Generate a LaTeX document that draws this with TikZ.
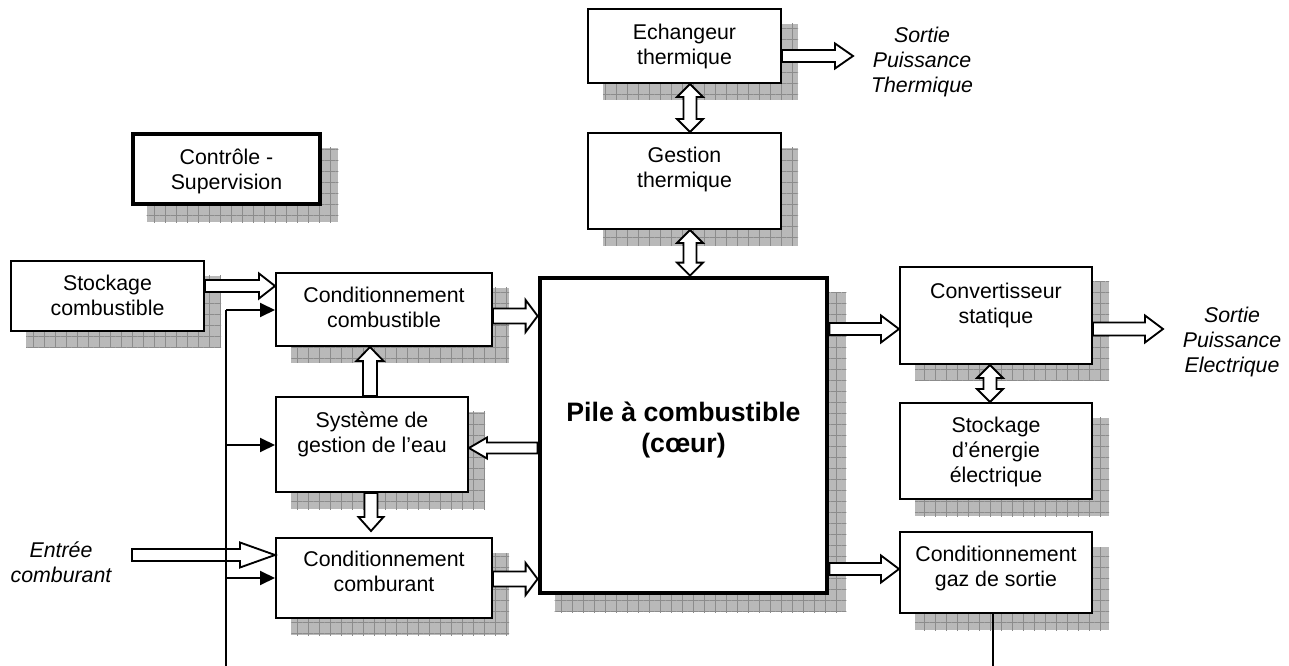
\documentclass[tikz,border=0pt]{standalone}
\usepackage{fontspec}
\setmainfont{Liberation Sans}
\usetikzlibrary{arrows.meta,fit,backgrounds,patterns.meta,calc}
\newcommand\fsn{\fontsize{16}{18.75}\selectfont}
\newcommand\fsb{\fontsize{20}{23.25}\selectfont\bfseries}
% horizontal block arrow: from, to, y(px), dir(+1 right,-1 left), shaft half, head half, head length (px)
\newcommand\harr[7]{%
 \draw[blk] let \p1=(#1), \p2=(#2), \p3=(0,#3) in
 (\x1,{\y3+#5*0.75pt}) -- ({\x2-(#4)*#7*0.75pt},{\y3+#5*0.75pt})
 -- ({\x2-(#4)*#7*0.75pt},{\y3+#6*0.75pt}) -- (\x2,\y3)
 -- ({\x2-(#4)*#7*0.75pt},{\y3-#6*0.75pt}) -- ({\x2-(#4)*#7*0.75pt},{\y3-#5*0.75pt})
 -- (\x1,{\y3-#5*0.75pt}) -- cycle;}
% vertical block arrow: from, to, x(px), dir(+1 up,-1 down), shaft half, head half, head length (px)
\newcommand\varr[7]{%
 \draw[blk] let \p1=(#1), \p2=(#2), \p3=(#3,0) in
 ({\x3-#5*0.75pt},\y1) -- ({\x3-#5*0.75pt},{\y2-(#4)*#7*0.75pt})
 -- ({\x3-#6*0.75pt},{\y2-(#4)*#7*0.75pt}) -- (\x3,\y2)
 -- ({\x3+#6*0.75pt},{\y2-(#4)*#7*0.75pt}) -- ({\x3+#5*0.75pt},{\y2-(#4)*#7*0.75pt})
 -- ({\x3+#5*0.75pt},\y1) -- cycle;}
% double vertical block arrow: top anchor, bottom anchor, x(px), shaft half, head half, head length
\newcommand\dvarr[6]{%
 \draw[blk] let \p1=(#1), \p2=(#2), \p3=(#3,0) in
 (\x3,\y1) -- ({\x3+#5*0.75pt},{\y1-#6*0.75pt}) -- ({\x3+#4*0.75pt},{\y1-#6*0.75pt})
 -- ({\x3+#4*0.75pt},{\y2+#6*0.75pt}) -- ({\x3+#5*0.75pt},{\y2+#6*0.75pt}) -- (\x3,\y2)
 -- ({\x3-#5*0.75pt},{\y2+#6*0.75pt}) -- ({\x3-#4*0.75pt},{\y2+#6*0.75pt})
 -- ({\x3-#4*0.75pt},{\y1-#6*0.75pt}) -- ({\x3-#5*0.75pt},{\y1-#6*0.75pt}) -- cycle;}
\begin{document}
\begin{tikzpicture}[x=0.75pt,y=-0.75pt,
  box/.style={draw, fill=white, line width=1.5pt, inner sep=0pt},
  thickbox/.style={box, line width=3.6pt},
  txt/.style={anchor=north, inner sep=0pt, align=center, font=\fsn},
  bigtxt/.style={anchor=north, inner sep=0pt, align=center, font=\fsb},
  itx/.style={inner sep=0pt, align=center, font=\fsn\itshape},
  blk/.style={draw, fill=white, line width=1.4pt, line join=miter},
  ctl/.style={line width=1.5pt},
  fa/.style={-{Triangle[length=11.25pt,width=10.5pt]}},
  shd/.style={fill=gray!55, postaction={pattern={Hatch[angle=0,distance=8.25pt,line width=0.5pt]}, pattern color=gray!90}}]
\useasboundingbox (0,0) rectangle (1289,666);

% boxes
\node[box, fit={(588,9)(781,83)}, label={[txt,yshift=-12pt]north:{Echangeur\\thermique}}] (ech) {};
\node[box, fit={(588,133)(781,229)}, label={[txt,yshift=-11.25pt]north:{Gestion\\thermique}}] (gth) {};
\node[thickbox, fit={(133,134)(320,204)}, label={[txt,yshift=-13pt]north:{Contrôle -\\Supervision}}] (ctrl) {};
\node[box, fit={(11,261)(204,331)}, label={[txt,yshift=-11.25pt]north:{Stockage\\combustible}}] (stc) {};
\node[box, fit={(276,273)(492,346)}, label={[txt,yshift=-11.25pt]north:{Conditionnement\\combustible}}] (ccb) {};
\node[box, fit={(276,397)(468,492)}, label={[txt,yshift=-12pt]north:{Système de\\gestion de l’eau}}] (sge) {};
\node[box, fit={(276,538)(492,618)}, label={[txt,yshift=-10.5pt]north:{Conditionnement\\comburant}}] (ccr) {};
\node[thickbox, fit={(540,278)(827,593)}, label={[bigtxt,yshift=-94.5pt]north:{Pile à combustible\\(cœur)}}] (pile) {};
\node[box, fit={(900,267)(1092,364)}, label={[txt,yshift=-12.75pt]north:{Convertisseur\\statique}}] (conv) {};
\node[box, fit={(900,403)(1092,499)}, label={[txt,yshift=-11.25pt]north:{Stockage\\d’énergie\\électrique}}] (sto) {};
\node[box, fit={(900,532)(1092,613)}, label={[txt,yshift=-11.25pt]north:{Conditionnement\\gaz de sortie}}] (gaz) {};

% shadows
\begin{scope}[on background layer]
  \foreach \n in {ech,gth,ctrl,stc,ccb,sge,ccr,conv,sto,gaz} {
    \fill[shd] ([shift={(16,16)}]\n.north west) rectangle ([shift={(16,16)}]\n.south east);
  }
  \fill[shd] ([shift={(17,17)}]pile.north west) rectangle ([shift={(17,17)}]pile.south east);
\end{scope}

% free texts
\node[itx, anchor=north] (sortT) at (922,27) {Sortie\\Puissance\\Thermique};
\node[itx, anchor=north] (sortE) at (1232,307) {Sortie\\Puissance\\Electrique};
\node[itx, anchor=north] (entree) at (61,542) {Entrée\\comburant};

% free ends
\coordinate (outT) at (853,56);
\coordinate (outE) at (1163,329);
\coordinate (entin) at (132,555);
\coordinate (c1) at (226,310);
\coordinate (c2) at (226,445);
\coordinate (c3) at (226,578);
\coordinate (cbot) at (226,666);

% block arrows
\harr{stc.east}{ccb.west}{286}{1}{6}{12.5}{16}
\harr{ccb.east}{pile.west}{316}{1}{7.5}{16}{12}
\harr{ccr.east}{pile.west}{579}{1}{7.5}{16}{12}
\harr{pile.west}{sge.east}{448}{-1}{5.5}{10.5}{18}
\harr{pile.east}{conv.west}{329}{1}{6}{13.5}{18}
\harr{pile.east}{gaz.west}{569}{1}{6}{13.5}{18}
\harr{conv.east}{outE}{329}{1}{6.5}{13.5}{18}
\harr{ech.east}{outT}{56}{1}{6}{12.5}{18}
\harr{entin}{ccr.west}{555}{1}{6}{12.5}{35}
\varr{sge.north}{ccb.south}{370}{1}{7}{13.5}{14}
\varr{sge.south}{[yshift=4.5pt]ccr.north}{371}{-1}{6.5}{12.5}{14}
\dvarr{ech.south}{gth.north}{690}{6.5}{13}{13}
\dvarr{gth.south}{pile.north}{690}{6.5}{13}{13}
\dvarr{conv.south}{sto.north}{990}{6.5}{13}{13}

% control lines
\draw[ctl] (c1) -- (cbot);
\draw[ctl,fa] (c1) -- (c1 -| ccb.west);
\draw[ctl,fa] (c2) -- (c2 -| sge.west);
\draw[ctl,fa] (c3) -- (c3 -| ccr.west);
\draw[ctl] ([xshift=-2.25pt]gaz.south) -- ([xshift=-2.25pt]gaz.south |- cbot);
\end{tikzpicture}
\end{document}
